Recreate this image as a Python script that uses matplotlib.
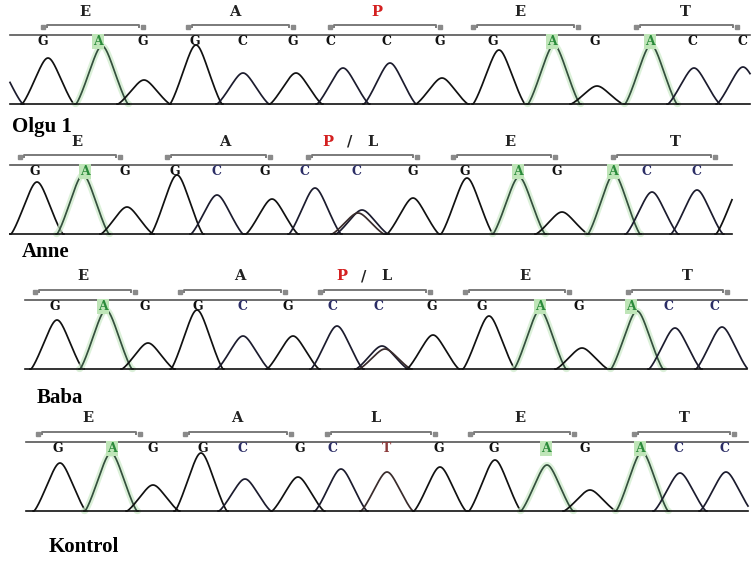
import numpy as np
import matplotlib.pyplot as plt

W, H = 754, 561
HALF_W = 26.0   # half width of a peak foot, px
ROUND = 7.0     # rounding of the peak top

# ---- Olgu 1 ----
olgu_peak_x = [-3, 48, 102, 144, 196, 243, 296, 343, 390, 442, 499, 554, 597, 651, 694, 743]
olgu_peak_h = [40, 46, 58, 24, 59, 31, 31, 36, 41, 26, 54, 59, 18, 59, 36, 37]
olgu_peak_base = "CGAGGCGCCGGAGACC"
olgu_calls = "GAGGCGCCGGAGACC"
olgu_call_x = [43, 98, 143, 195, 243, 293, 330, 386, 440, 493, 552, 595, 650, 693, 742]
olgu_codons = ["E", "A", "P", "E", "T"]
olgu_codon_lx = [85, 235, 377, 520, 685]
olgu_codon_x0 = [43, 188, 330, 473, 636]
olgu_codon_x1 = [143, 293, 440, 578, 737]

# ---- Anne ----
anne_peak_x = [37, 83, 127, 177, 217, 272, 315, 362, 358, 413, 467, 519, 562, 614, 652, 697, 742]
anne_peak_h = [52, 59, 27, 59, 39, 35, 46, 24, 21, 36, 56, 57, 22, 60, 42, 44, 50]
anne_peak_base = "GAGGCGCCTGGAGACCG"
anne_calls = "GAGGCGCCGGAGACC"
anne_call_x = [35, 85, 125, 175, 217, 265, 305, 357, 413, 465, 518, 557, 613, 646, 697]
anne_codons = ["E", "A", "P/L", "E", "T"]
anne_codon_lx = [77, 225, 350, 510, 675]
anne_codon_x0 = [20, 167, 308, 453, 613]
anne_codon_x1 = [120, 270, 417, 555, 715]

# ---- Baba ----
baba_peak_x = [57, 106, 148, 197, 243, 293, 337, 382, 385, 433, 489, 540, 582, 637, 675, 722]
baba_peak_h = [49, 59, 26, 59, 33, 33, 43, 23, 20, 34, 53, 59, 21, 58, 41, 42]
baba_peak_base = "GAGGCGCCTGGAGACC"
baba_calls = "GAGGCGCCGGAGACC"
baba_call_x = [55, 103, 145, 198, 243, 288, 333, 378, 432, 482, 540, 579, 631, 669, 715]
baba_codons = ["E", "A", "P/L", "E", "T"]
baba_codon_lx = [83, 240, 364, 525, 687]
baba_codon_x0 = [35, 180, 320, 465, 628]
baba_codon_x1 = [135, 285, 430, 569, 727]

# ---- Kontrol ----
kontrol_peak_x = [60, 111, 153, 201, 245, 298, 341, 387, 440, 495, 547, 590, 642, 680, 726]
kontrol_peak_h = [48, 58, 26, 58, 32, 34, 42, 39, 44, 51, 46, 21, 59, 38, 39]
kontrol_peak_base = "GAGGCGCTGGAGACC"
kontrol_calls = "GAGGCGCTGGAGACC"
kontrol_call_x = [58, 112, 153, 203, 243, 300, 333, 386, 439, 494, 546, 585, 640, 679, 724]
kontrol_codons = ["E", "A", "L", "E", "T"]
kontrol_codon_lx = [88, 237, 375, 520, 684]
kontrol_codon_x0 = [38, 185, 327, 470, 634]
kontrol_codon_x1 = [140, 291, 435, 574, 734]

trace_colors = {'G': '#111111', 'A': '#34503d', 'C': '#1c1c2e', 'T': '#3a2c2c'}
letter_colors = {'G': '#111111', 'A': '#2a8a3a', 'C': '#2b2d66', 'T': '#8b3a3a'}

fig = plt.figure(figsize=(W / 100, H / 100), dpi=100)
fig.patch.set_facecolor('white')


def peak_shape(d):
    # rounded triangle, zero at |d| = HALF_W
    w_eff = np.sqrt(HALF_W ** 2 + ROUND ** 2) - ROUND
    t = (np.sqrt(d ** 2 + ROUND ** 2) - ROUND) / w_eff
    return np.clip(1 - t, 0, None) ** 1.25


def codon_text(ax, x, s, color):
    ax.text(x, 92.5, s, ha='center', va='center', color=color,
            fontsize=10.5, fontweight='bold', family='DejaVu Serif')


def draw_panel(baseline, x_lo, x_hi, peak_x, peak_h, peak_base, calls, call_x,
               codons, codon_lx, codon_x0, codon_x1, c_color):
    # axes: 1 data unit = 1 pixel, baseline at y=0
    ax = fig.add_axes([0, 1 - (baseline + 4) / H, 1, 107 / H])
    ax.set_xlim(0, W)
    ax.set_ylim(-4, 103)
    ax.axis('off')

    xs = np.linspace(x_lo, x_hi, 3000)
    # each peak drawn as its own curve so neighbours cross at the baseline
    for x0, h, b in zip(peak_x, peak_h, peak_base):
        m = np.abs(xs - x0) <= HALF_W + 1
        if not m.any():
            continue
        y = h * peak_shape(xs[m] - x0)
        if b == 'A':
            ax.plot(xs[m], y, color='#cdebc9', lw=4.5, alpha=0.7,
                    solid_capstyle='round')
        ax.plot(xs[m], y, color=trace_colors[b], lw=1.25)

    ax.plot([x_lo, x_hi], [0, 0], color='#111111', lw=1.2)
    ax.plot([x_lo, x_hi], [69.5, 69.5], color='#555555', lw=1.2)

    for ch, x in zip(calls, call_x):
        col = c_color if ch == 'C' else letter_colors[ch]
        kw = {}
        if ch == 'A':
            kw['bbox'] = dict(boxstyle='square,pad=0.1', fc='#bfe5b8', ec='none')
        ax.text(x, 62.5, ch, ha='center', va='center', color=col,
                fontsize=9, fontweight='bold', family='DejaVu Serif', **kw)

    for lab, lx, x0, x1 in zip(codons, codon_lx, codon_x0, codon_x1):
        ax.plot([x0 + 4, x0 + 4, x1 - 4, x1 - 4], [77, 79.5, 79.5, 77],
                color='#7a7a7a', lw=1.4)
        ax.plot([x0, x1], [77, 77], ls='none', marker='s', ms=2.8,
                color='#8a8a8a')
        if lab == 'P/L':
            codon_text(ax, lx - 22, 'P', '#d42020')
            codon_text(ax, lx, '/', '#222222')
            codon_text(ax, lx + 22, 'L', '#222222')
        else:
            codon_text(ax, lx, lab, '#d42020' if lab == 'P' else '#222222')


draw_panel(104, 10, 750, olgu_peak_x, olgu_peak_h, olgu_peak_base, olgu_calls,
           olgu_call_x, olgu_codons, olgu_codon_lx, olgu_codon_x0, olgu_codon_x1, '#111111')
draw_panel(234, 10, 732, anne_peak_x, anne_peak_h, anne_peak_base, anne_calls,
           anne_call_x, anne_codons, anne_codon_lx, anne_codon_x0, anne_codon_x1, '#2b2d66')
draw_panel(369, 25, 747, baba_peak_x, baba_peak_h, baba_peak_base, baba_calls,
           baba_call_x, baba_codons, baba_codon_lx, baba_codon_x0, baba_codon_x1, '#2b2d66')
draw_panel(511, 26, 748, kontrol_peak_x, kontrol_peak_h, kontrol_peak_base, kontrol_calls,
           kontrol_call_x, kontrol_codons, kontrol_codon_lx, kontrol_codon_x0, kontrol_codon_x1,
           '#2b2d66')

# sample names
for name, x, y in [("Olgu 1", 12, 132), ("Anne", 22, 257), ("Baba", 37, 403), ("Kontrol", 49, 552)]:
    fig.text(x / W, 1 - y / H, name, ha='left', va='baseline', fontsize=15,
             fontweight='bold', family='Liberation Serif', color='#000000')

fig.savefig('out.png', dpi=100, facecolor='white')
